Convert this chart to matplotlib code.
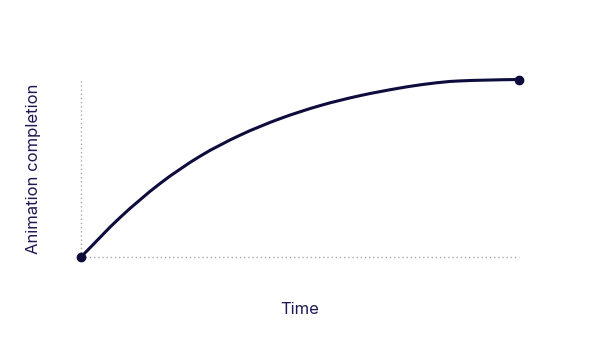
import matplotlib
matplotlib.use('Agg')
import matplotlib.pyplot as plt
from matplotlib.path import Path
from matplotlib.patches import PathPatch

# 読み取った値（0〜1に正規化）
time = [0.0, 0.089, 0.180, 0.272, 0.363, 0.454, 0.546, 0.637, 0.728,
        0.797, 0.865, 1.0]
completion = [0.0, 0.222, 0.413, 0.568, 0.686, 0.779, 0.853, 0.909, 0.952,
              0.977, 0.992, 1.0]

navy = '#0e0b3d'
text_color = '#1c1853'


def smooth_path(xs, ys):
    # 読み取った点を通る Catmull-Rom 曲線をベジェで描く
    pts = list(zip(xs, ys))
    n = len(pts)
    first = (2 * pts[0][0] - pts[1][0], 2 * pts[0][1] - pts[1][1])
    last = (2 * pts[-1][0] - pts[-2][0], pts[-1][1])
    ext = [first] + pts + [last]
    verts = [pts[0]]
    codes = [Path.MOVETO]
    for i in range(1, n):
        p0, p1, p2, p3 = ext[i - 1], ext[i], ext[i + 1], ext[i + 2]
        c1 = (p1[0] + (p2[0] - p0[0]) / 6, p1[1] + (p2[1] - p0[1]) / 6)
        c2 = (p2[0] - (p3[0] - p1[0]) / 6, p2[1] - (p3[1] - p1[1]) / 6)
        verts += [c1, c2, p2]
        codes += [Path.CURVE4] * 3
    return Path(verts, codes)


fig = plt.figure(figsize=(6, 3.38), dpi=100)
ax = fig.add_axes([81 / 600, 81 / 338, 438 / 600, 177.5 / 338])
ax.set_xlim(0, 1)
ax.set_ylim(0, 1)
ax.axis('off')

# 点線の軸
ax.plot([0, 0], [0, 1], color='#a8a8a8', lw=1, ls=(0, (1, 2)), clip_on=False)
ax.plot([0, 1], [0, 0], color='#a8a8a8', lw=1, ls=(0, (1, 2)), clip_on=False)

# カーブ
ax.add_patch(PathPatch(smooth_path(time, completion), fill=False, edgecolor=navy,
                       lw=2.2, capstyle='round', clip_on=False))
ax.plot([time[0], time[-1]], [completion[0], completion[-1]], 'o', color=navy,
        markersize=6, clip_on=False)

fig.text(33.5 / 600, 1 - 169 / 338, 'Animation completion', rotation=90,
         ha='center', va='center', fontsize=12, color=text_color, family='Inter')
fig.text(300 / 600, 1 - 310 / 338, 'Time', ha='center', va='center',
         fontsize=12, color=text_color, family='Inter')

fig.savefig('out.png', dpi=100)
